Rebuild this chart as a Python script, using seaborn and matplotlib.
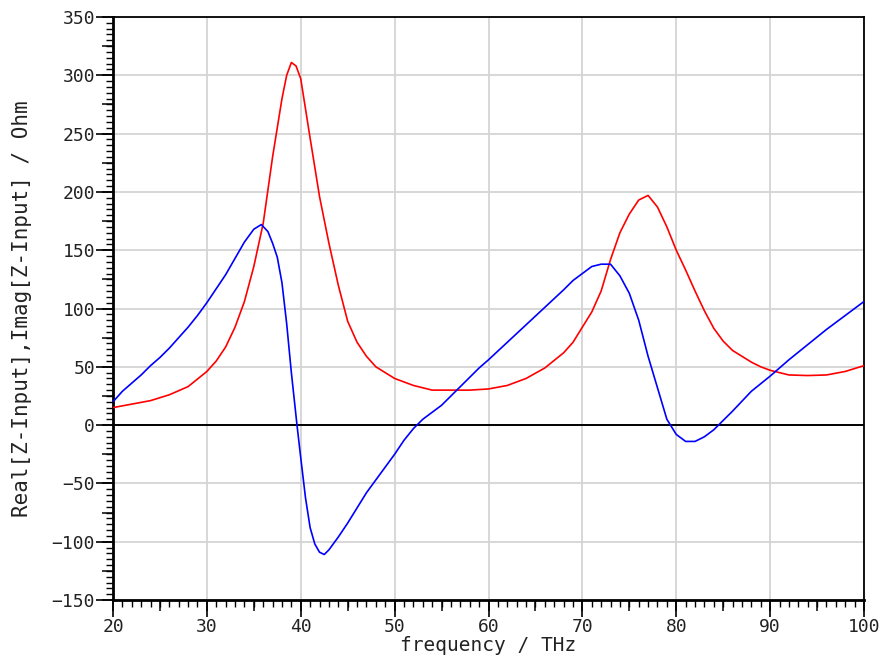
import matplotlib
matplotlib.use("Agg")
import matplotlib.pyplot as plt
from matplotlib.ticker import MultipleLocator, NullFormatter
import seaborn as sns
import pandas as pd

# ---- data ----
freq_real = [20, 22, 24, 26, 28, 30, 31, 32, 33, 34, 35, 36, 37, 38, 38.5, 39, 39.5, 40, 41, 42, 43,
             44, 45, 46, 47, 48, 50, 52, 54, 56, 58, 60, 62, 64, 66, 68, 69, 70, 71, 72, 73,
             74, 75, 76, 77, 78, 79, 80, 81, 82, 83, 84, 85, 86, 87, 88, 89, 90, 92, 94, 96,
             98, 100]
real_z = [15, 18, 21, 26, 33, 46, 55, 67, 84, 106, 136, 173, 230, 280, 300, 311, 308, 297, 246, 196, 156,
          120, 89, 71, 59, 50, 40, 34, 30, 30, 30, 31, 34, 40, 49, 62, 71, 84, 97, 115, 142,
          165, 181, 193, 197, 187, 170, 150, 133, 115, 98, 83, 72, 64, 59, 54, 50, 47, 43, 42.5, 43,
          46, 51]

freq_imag = [20, 21, 22, 23, 24, 25, 26, 27, 28, 29, 30, 31, 32, 33, 34, 35, 35.8, 36.5, 37, 37.5,
             38, 38.5, 39, 39.6, 40, 40.5, 41, 41.5, 42, 42.5, 43, 44, 45, 46, 47, 48, 49, 50,
             51, 52, 53, 54, 55, 56, 57, 58, 59, 60, 62, 64, 66, 68, 69, 70, 71, 72, 73, 74,
             75, 76, 77, 78, 79, 80, 81, 82, 83, 84, 85, 86, 88, 90, 92, 94, 96, 98, 100]
imag_z = [20, 29, 36, 43, 51, 58, 66, 75, 84, 94, 105, 117, 129, 143, 157, 168, 172, 166, 156, 144,
          122, 87, 45, 0, -28, -62, -88, -102, -109, -111, -107, -96, -84, -71, -58, -47, -36, -25,
          -13, -3, 5, 11, 17, 25, 33, 41, 49, 56, 71, 86, 101, 116, 124, 130, 136, 138, 138, 128,
          113, 90, 59, 32, 5, -8, -14, -14, -10, -4, 4, 12, 29, 42, 56, 69, 82, 94, 106]

x_ticks = [20, 30, 40, 50, 60, 70, 80, 90, 100]
y_ticks = [-150, -100, -50, 0, 50, 100, 150, 200, 250, 300, 350]
x_label = "frequency / THz"
y_label = "Real[Z-Input],Imag[Z-Input] / Ohm"

df_real = pd.DataFrame({"freq": freq_real, "val": real_z})
df_imag = pd.DataFrame({"freq": freq_imag, "val": imag_z})

sns.set_theme(style="white")
plt.rcParams["font.family"] = ["DejaVu Sans Mono", "DejaVu Sans"]

fig = plt.figure(figsize=(8.83, 6.59), dpi=100)
ax = fig.add_axes([113/883, 1-600/659, (864-113)/883, (600-17)/659])

ax.grid(True, which="major", color="#d4d4d4", linewidth=1.3, zorder=0)
ax.set_axisbelow(True)
ax.axhline(0, color="black", linewidth=1.4, zorder=2)

sns.lineplot(data=df_real, x="freq", y="val", ax=ax, color="#ff0000", linewidth=1.2, zorder=3)
sns.lineplot(data=df_imag, x="freq", y="val", ax=ax, color="#0000ff", linewidth=1.2, zorder=3)

ax.set_xlim(20, 100)
ax.set_ylim(-150, 350)
ax.set_xticks(x_ticks)
ax.set_yticks(y_ticks)
ax.xaxis.set_minor_locator(MultipleLocator(1))
ax.yaxis.set_minor_locator(MultipleLocator(5))

ax.tick_params(axis="both", which="major", direction="out", length=12, width=1.2,
               color="black", labelsize=13, pad=1, labelcolor="#222222")
ax.tick_params(axis="both", which="minor", direction="out", length=5, width=1.0, color="black")
ax.tick_params(axis="both", which="both", bottom=True, left=True, top=False, right=False)

# medium ticks at the half-steps
secx = ax.secondary_xaxis("bottom")
secx.xaxis.set_major_locator(MultipleLocator(5))
secx.xaxis.set_major_formatter(NullFormatter())
secx.tick_params(axis="x", which="major", direction="out", length=8, width=1.1, color="black")
secx.spines["bottom"].set_visible(False)
secy = ax.secondary_yaxis("left")
secy.yaxis.set_major_locator(MultipleLocator(25))
secy.yaxis.set_major_formatter(NullFormatter())
secy.tick_params(axis="y", which="major", direction="out", length=8, width=1.1, color="black")
secy.spines["left"].set_visible(False)

for side in ["left", "bottom"]:
    ax.spines[side].set_linewidth(2.0)
    ax.spines[side].set_color("black")
for side in ["top", "right"]:
    ax.spines[side].set_linewidth(1.3)
    ax.spines[side].set_color("black")

ax.set_xlabel(x_label, fontsize=14, labelpad=0, color="#222222")
ax.set_ylabel(y_label, fontsize=15, labelpad=14, color="#222222")

fig.savefig("out.png", dpi=100, facecolor="white")
